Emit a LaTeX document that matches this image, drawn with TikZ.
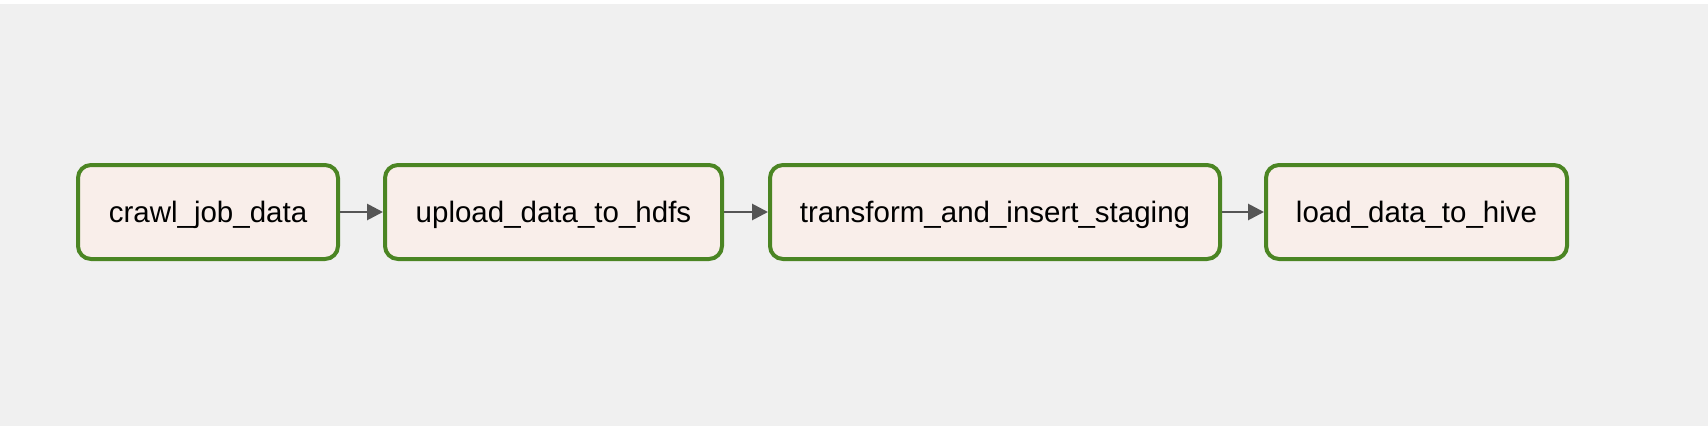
\documentclass[tikz,border=0pt]{standalone}
\usepackage{fontspec}
\setmainfont{Liberation Sans}
\usetikzlibrary{arrows.meta}
\definecolor{bgc}{HTML}{F0F0F0}
\definecolor{boxfill}{HTML}{F9EEEA}
\definecolor{boxline}{HTML}{4B8523}
\definecolor{arrowc}{HTML}{555555}
\begin{document}
\begin{tikzpicture}[x=1pt,y=-1pt,
  task/.style={draw=boxline, fill=boxfill, line width=4pt, rounded corners=13pt,
    minimum height=94pt, inner sep=0pt, text height=21.5pt, text depth=0pt,
    font=\fontsize{29.5}{34}\selectfont},
  flow/.style={draw=arrowc, line width=2.8pt, -{Triangle[length=16pt,width=16pt]}}]
\useasboundingbox (0,0) rectangle (1708,426);
\fill[white] (0,0) rectangle (1708,426);
\fill[bgc] (0,4) rectangle (1708,426);
\node[task, minimum width=260pt] (a) at (208,212) {crawl\_job\_data};
\node[task, minimum width=337pt] (b) at (553.5,212) {upload\_data\_to\_hdfs};
\node[task, minimum width=450pt] (c) at (995,212) {transform\_and\_insert\_staging};
\node[task, minimum width=301pt] (d) at (1416.5,212) {load\_data\_to\_hive};
\draw[flow] (a.east) -- (b.west);
\draw[flow] (b.east) -- (c.west);
\draw[flow] (c.east) -- (d.west);
\end{tikzpicture}
\end{document}
